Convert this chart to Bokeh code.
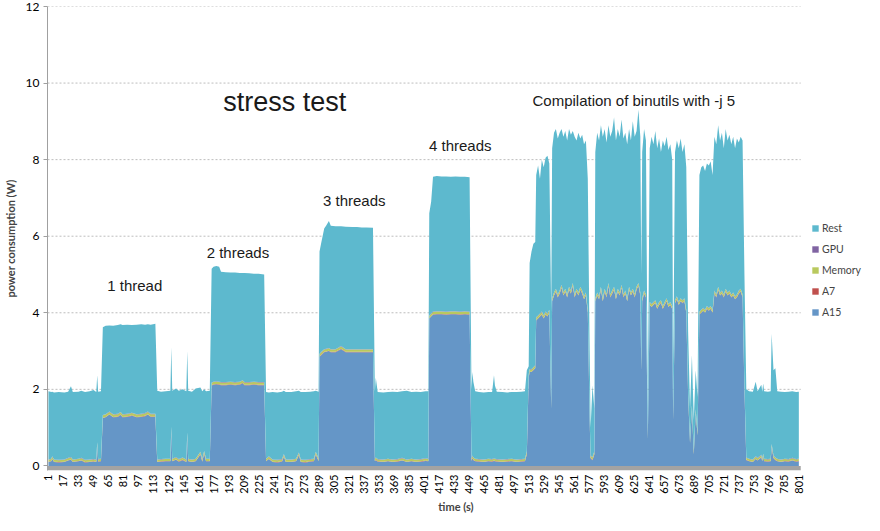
from math import pi
from bokeh.plotting import figure
from bokeh.models import ColumnDataSource, Range1d, FixedTicker, Legend, LegendItem, Label, BoxAnnotation
from bokeh.embed import file_html
from bokeh.resources import INLINE

# ---------------- data ----------------
time_s = [
    1, 4, 5, 7, 12, 18, 22, 25, 27, 33, 36, 40, 45, 49, 52, 53, 54, 57,
    59, 62, 66, 70, 75, 78, 80, 85, 90, 95, 100, 104, 107, 110, 115,
    117, 121, 126, 131, 132, 133, 137, 140, 144, 148, 149, 150, 154, 158, 163, 165, 167, 169, 173,
    175, 177, 180, 183, 185, 190, 195, 200, 205, 208, 210, 215, 220, 225, 231,
    233, 236, 240, 245, 250, 252, 254, 260, 265, 268, 270, 275, 280, 284, 286, 289,
    290, 292, 295, 297, 300, 302, 307, 313, 318, 325, 330, 335, 340, 347,
    349, 350, 352, 358, 363, 368, 373, 378, 383, 388, 393, 398, 403, 406,
    407, 409, 411, 415, 420, 425, 430, 435, 440, 445, 450,
    452, 453, 454, 456, 460, 465, 470, 474, 476, 477, 479, 485, 490, 495, 500, 505, 509,
    511, 513, 514, 516, 518, 520,
    521, 523, 525, 527, 529, 531, 533, 535,
    537, 538,
    540, 542, 544, 546, 548, 550, 552, 554, 556, 558, 560, 562, 564, 566, 568, 570, 572, 574, 576,
    578, 579, 581, 583,
    584, 586, 588, 590, 592, 594, 596, 598, 600, 602, 604, 606, 608, 610, 612, 614, 616, 618, 620, 622, 624, 626, 628, 630, 632,
    633, 634, 636, 638,
    640,
    642, 644, 646, 648, 650, 652, 654, 656, 658, 660, 662, 664, 666,
    667,
    669, 671, 673, 675, 677, 679, 681,
    683, 685, 687, 689, 691, 693,
    695, 697, 699, 701, 703, 705, 707, 709,
    711, 713, 715, 717, 719, 721, 723, 725, 727, 729, 731, 733, 735, 737, 739, 741, 743,
    745, 748, 752, 755, 757, 761, 762, 763, 764, 768, 771, 772, 774, 776, 778, 782, 786, 790, 794, 798, 801,
]

a15_w = [
    0.10, 0.12, 0.18, 0.10, 0.09, 0.10, 0.14, 0.16, 0.10, 0.12, 0.14, 0.09, 0.10, 0.11, 0.10, 0.55, 0.11, 0.12,
    1.25, 1.27, 1.34, 1.27, 1.28, 1.33, 1.27, 1.28, 1.31, 1.27, 1.28, 1.30, 1.34, 1.28, 1.28,
    0.10, 0.11, 0.12, 0.12, 0.95, 0.12, 0.16, 0.11, 0.15, 0.10, 0.80, 0.12, 0.10, 0.12, 0.30, 0.11, 0.32, 0.12, 0.12,
    2.10, 2.12, 2.13, 2.12, 2.11, 2.11, 2.12, 2.11, 2.12, 2.16, 2.11, 2.11, 2.12, 2.11, 2.11,
    0.12, 0.18, 0.10, 0.09, 0.11, 0.24, 0.10, 0.10, 0.12, 0.28, 0.10, 0.09, 0.11, 0.12, 0.30, 0.12,
    2.85, 2.90, 2.97, 2.98, 3.00, 2.97, 2.97, 3.05, 2.97, 2.97, 2.97, 2.97, 2.97, 2.97,
    0.12, 0.15, 0.11, 0.10, 0.12, 0.10, 0.11, 0.14, 0.10, 0.12, 0.10, 0.11, 0.13, 0.12,
    3.85, 3.90, 3.95, 3.96, 3.96, 3.95, 3.96, 3.96, 3.95, 3.96, 3.95,
    0.13, 0.20, 0.15, 0.12, 0.11, 0.10, 0.12, 0.11, 0.13, 0.12, 0.11, 0.10, 0.11, 0.12, 0.10, 0.11, 0.12,
    0.30, 2.30, 2.45, 2.45, 2.50, 2.55,
    3.80, 3.85, 3.90, 3.95, 3.85, 3.95, 3.90, 4.00,
    1.50, 4.30,
    4.45, 4.55, 4.40, 4.50, 4.65, 4.45, 4.55, 4.40, 4.60, 4.50, 4.70, 4.40, 4.55, 4.45, 4.60, 4.50, 4.35, 4.45, 4.00,
    1.20, 0.20, 0.15, 0.30,
    4.30, 4.45, 4.35, 4.60, 4.30, 4.55, 4.40, 4.70, 4.40, 4.50, 4.60, 4.35, 4.55, 4.45, 4.65, 4.40, 4.50, 4.30, 4.60, 4.45, 4.55, 4.40, 4.60, 4.70, 4.45,
    2.50, 4.30, 4.50, 4.40,
    0.70,
    4.20, 4.15, 4.20, 4.25, 4.10, 4.20, 4.25, 4.10, 4.20, 4.30, 4.15, 4.20, 4.10,
    1.20,
    4.25, 4.35, 4.20, 4.30, 4.25, 4.30, 4.00,
    1.80, 0.60, 1.50, 0.30, 1.40, 0.80,
    3.95, 4.00, 4.05, 4.00, 4.10, 4.05, 4.10, 4.00,
    4.50, 4.40, 4.60, 4.45, 4.50, 4.40, 4.55, 4.45, 4.50, 4.40, 4.45, 4.35, 4.40, 4.50, 4.55, 4.40, 2.00,
    0.15, 0.12, 0.10, 0.18, 0.14, 0.22, 0.12, 0.25, 0.12, 0.11, 0.12, 0.50, 0.20, 0.15, 0.12, 0.10, 0.12, 0.11, 0.14, 0.11, 0.12,
]

a7_w = [
    0.01, 0.01, 0.01, 0.01, 0.01, 0.01, 0.01, 0.01, 0.01, 0.01, 0.01, 0.01, 0.01, 0.01, 0.01, 0.01, 0.01, 0.01,
    0.01, 0.01, 0.01, 0.01, 0.01, 0.01, 0.01, 0.01, 0.01, 0.01, 0.01, 0.01, 0.01, 0.01, 0.01,
    0.01, 0.01, 0.01, 0.01, 0.01, 0.01, 0.01, 0.01, 0.01, 0.01, 0.01, 0.01, 0.01, 0.01, 0.01, 0.01, 0.01, 0.01, 0.01,
    0.01, 0.01, 0.01, 0.01, 0.01, 0.01, 0.01, 0.01, 0.01, 0.01, 0.01, 0.01, 0.01, 0.01, 0.01,
    0.01, 0.01, 0.01, 0.01, 0.01, 0.01, 0.01, 0.01, 0.01, 0.01, 0.01, 0.01, 0.01, 0.01, 0.01, 0.01,
    0.01, 0.01, 0.01, 0.01, 0.01, 0.01, 0.01, 0.01, 0.01, 0.01, 0.01, 0.01, 0.01, 0.01,
    0.01, 0.01, 0.01, 0.01, 0.01, 0.01, 0.01, 0.01, 0.01, 0.01, 0.01, 0.01, 0.01, 0.01,
    0.01, 0.01, 0.01, 0.01, 0.01, 0.01, 0.01, 0.01, 0.01, 0.01, 0.01,
    0.01, 0.01, 0.01, 0.01, 0.01, 0.01, 0.01, 0.01, 0.01, 0.01, 0.01, 0.01, 0.01, 0.01, 0.01, 0.01, 0.01,
    0.01, 0.01, 0.01, 0.01, 0.01, 0.01,
    0.01, 0.01, 0.01, 0.01, 0.01, 0.01, 0.01, 0.01,
    0.01, 0.01,
    0.01, 0.01, 0.01, 0.01, 0.01, 0.01, 0.01, 0.01, 0.01, 0.01, 0.01, 0.01, 0.01, 0.01, 0.01, 0.01, 0.01, 0.01, 0.01,
    0.01, 0.01, 0.01, 0.01,
    0.01, 0.01, 0.01, 0.01, 0.01, 0.01, 0.01, 0.01, 0.01, 0.01, 0.01, 0.01, 0.01, 0.01, 0.01, 0.01, 0.01, 0.01, 0.01, 0.01, 0.01, 0.01, 0.01, 0.01, 0.01,
    0.01, 0.01, 0.01, 0.01,
    0.01,
    0.01, 0.01, 0.01, 0.01, 0.01, 0.01, 0.01, 0.01, 0.01, 0.01, 0.01, 0.01, 0.01,
    0.01,
    0.01, 0.01, 0.01, 0.01, 0.01, 0.01, 0.01,
    0.01, 0.01, 0.01, 0.01, 0.01, 0.01,
    0.01, 0.01, 0.01, 0.01, 0.01, 0.01, 0.01, 0.01,
    0.01, 0.01, 0.01, 0.01, 0.01, 0.01, 0.01, 0.01, 0.01, 0.01, 0.01, 0.01, 0.01, 0.01, 0.01, 0.01, 0.01,
    0.01, 0.01, 0.01, 0.01, 0.01, 0.01, 0.01, 0.01, 0.01, 0.01, 0.01, 0.01, 0.01, 0.01, 0.01, 0.01, 0.01, 0.01, 0.01, 0.01, 0.01,
]

memory_w = [
    0.05, 0.05, 0.05, 0.05, 0.05, 0.05, 0.05, 0.05, 0.05, 0.05, 0.05, 0.05, 0.05, 0.05, 0.05, 0.05, 0.05, 0.05,
    0.06, 0.06, 0.06, 0.06, 0.06, 0.06, 0.06, 0.06, 0.06, 0.06, 0.06, 0.06, 0.06, 0.06, 0.06,
    0.05, 0.05, 0.05, 0.05, 0.05, 0.05, 0.05, 0.05, 0.05, 0.05, 0.05, 0.05, 0.05, 0.05, 0.05, 0.05, 0.05, 0.05, 0.05,
    0.06, 0.06, 0.06, 0.06, 0.06, 0.06, 0.06, 0.06, 0.06, 0.06, 0.06, 0.06, 0.06, 0.06, 0.06,
    0.05, 0.05, 0.05, 0.05, 0.05, 0.05, 0.05, 0.05, 0.05, 0.05, 0.05, 0.05, 0.05, 0.05, 0.05, 0.05,
    0.06, 0.06, 0.06, 0.06, 0.06, 0.06, 0.06, 0.06, 0.06, 0.06, 0.06, 0.06, 0.06, 0.06,
    0.05, 0.05, 0.05, 0.05, 0.05, 0.05, 0.05, 0.05, 0.05, 0.05, 0.05, 0.05, 0.05, 0.05,
    0.06, 0.06, 0.06, 0.06, 0.06, 0.06, 0.06, 0.06, 0.06, 0.06, 0.06,
    0.05, 0.05, 0.05, 0.05, 0.05, 0.05, 0.05, 0.05, 0.05, 0.05, 0.05, 0.05, 0.05, 0.05, 0.05, 0.05, 0.05,
    0.06, 0.06, 0.06, 0.06, 0.06, 0.06,
    0.06, 0.06, 0.06, 0.06, 0.06, 0.06, 0.06, 0.06,
    0.06, 0.06,
    0.06, 0.06, 0.06, 0.06, 0.06, 0.06, 0.06, 0.06, 0.06, 0.06, 0.06, 0.06, 0.06, 0.06, 0.06, 0.06, 0.06, 0.06, 0.06,
    0.06, 0.06, 0.06, 0.06,
    0.06, 0.06, 0.06, 0.06, 0.06, 0.06, 0.06, 0.06, 0.06, 0.06, 0.06, 0.06, 0.06, 0.06, 0.06, 0.06, 0.06, 0.06, 0.06, 0.06, 0.06, 0.06, 0.06, 0.06, 0.06,
    0.06, 0.06, 0.06, 0.06,
    0.06,
    0.06, 0.06, 0.06, 0.06, 0.06, 0.06, 0.06, 0.06, 0.06, 0.06, 0.06, 0.06, 0.06,
    0.06,
    0.06, 0.06, 0.06, 0.06, 0.06, 0.06, 0.06,
    0.06, 0.06, 0.06, 0.06, 0.06, 0.06,
    0.06, 0.06, 0.06, 0.06, 0.06, 0.06, 0.06, 0.06,
    0.06, 0.06, 0.06, 0.06, 0.06, 0.06, 0.06, 0.06, 0.06, 0.06, 0.06, 0.06, 0.06, 0.06, 0.06, 0.06, 0.06,
    0.05, 0.05, 0.05, 0.05, 0.05, 0.05, 0.05, 0.05, 0.05, 0.05, 0.05, 0.05, 0.05, 0.05, 0.05, 0.05, 0.05, 0.05, 0.05, 0.05, 0.05,
]

gpu_w = [
    0.01, 0.01, 0.01, 0.01, 0.01, 0.01, 0.01, 0.01, 0.01, 0.01, 0.01, 0.01, 0.01, 0.01, 0.01, 0.01, 0.01, 0.01,
    0.01, 0.01, 0.01, 0.01, 0.01, 0.01, 0.01, 0.01, 0.01, 0.01, 0.01, 0.01, 0.01, 0.01, 0.01,
    0.01, 0.01, 0.01, 0.01, 0.01, 0.01, 0.01, 0.01, 0.01, 0.01, 0.01, 0.01, 0.01, 0.01, 0.01, 0.01, 0.01, 0.01, 0.01,
    0.01, 0.01, 0.01, 0.01, 0.01, 0.01, 0.01, 0.01, 0.01, 0.01, 0.01, 0.01, 0.01, 0.01, 0.01,
    0.01, 0.01, 0.01, 0.01, 0.01, 0.01, 0.01, 0.01, 0.01, 0.01, 0.01, 0.01, 0.01, 0.01, 0.01, 0.01,
    0.01, 0.01, 0.01, 0.01, 0.01, 0.01, 0.01, 0.01, 0.01, 0.01, 0.01, 0.01, 0.01, 0.01,
    0.01, 0.01, 0.01, 0.01, 0.01, 0.01, 0.01, 0.01, 0.01, 0.01, 0.01, 0.01, 0.01, 0.01,
    0.01, 0.01, 0.01, 0.01, 0.01, 0.01, 0.01, 0.01, 0.01, 0.01, 0.01,
    0.01, 0.01, 0.01, 0.01, 0.01, 0.01, 0.01, 0.01, 0.01, 0.01, 0.01, 0.01, 0.01, 0.01, 0.01, 0.01, 0.01,
    0.01, 0.01, 0.01, 0.01, 0.01, 0.01,
    0.01, 0.01, 0.01, 0.01, 0.01, 0.01, 0.01, 0.01,
    0.01, 0.01,
    0.01, 0.01, 0.01, 0.01, 0.01, 0.01, 0.01, 0.01, 0.01, 0.01, 0.01, 0.01, 0.01, 0.01, 0.01, 0.01, 0.01, 0.01, 0.01,
    0.01, 0.01, 0.01, 0.01,
    0.01, 0.01, 0.01, 0.01, 0.01, 0.01, 0.01, 0.01, 0.01, 0.01, 0.01, 0.01, 0.01, 0.01, 0.01, 0.01, 0.01, 0.01, 0.01, 0.01, 0.01, 0.01, 0.01, 0.01, 0.01,
    0.01, 0.01, 0.01, 0.01,
    0.01,
    0.01, 0.01, 0.01, 0.01, 0.01, 0.01, 0.01, 0.01, 0.01, 0.01, 0.01, 0.01, 0.01,
    0.01,
    0.01, 0.01, 0.01, 0.01, 0.01, 0.01, 0.01,
    0.01, 0.01, 0.01, 0.01, 0.01, 0.01,
    0.01, 0.01, 0.01, 0.01, 0.01, 0.01, 0.01, 0.01,
    0.01, 0.01, 0.01, 0.01, 0.01, 0.01, 0.01, 0.01, 0.01, 0.01, 0.01, 0.01, 0.01, 0.01, 0.01, 0.01, 0.01,
    0.01, 0.01, 0.01, 0.01, 0.01, 0.01, 0.01, 0.01, 0.01, 0.01, 0.01, 0.01, 0.01, 0.01, 0.01, 0.01, 0.01, 0.01, 0.01, 0.01, 0.01,
]

rest_w = [
    1.78, 1.74, 1.69, 1.75, 1.77, 1.75, 1.73, 1.85, 1.76, 1.75, 1.75, 1.77, 1.78, 1.80, 1.76, 1.75, 1.76, 1.76,
    2.29, 2.31, 2.25, 2.31, 2.32, 2.29, 2.33, 2.33, 2.29, 2.34, 2.34, 2.31, 2.28, 2.33, 2.35,
    1.79, 1.76, 1.76, 1.77, 2.08, 1.77, 1.79, 1.78, 1.78, 1.78, 2.13, 1.77, 1.77, 1.83, 1.68, 1.77, 1.61, 1.76, 1.77,
    2.97, 3.00, 3.01, 3.00, 2.88, 2.87, 2.85, 2.86, 2.84, 2.80, 2.85, 2.84, 2.82, 2.83, 2.81,
    1.74, 1.67, 1.76, 1.76, 1.76, 1.65, 1.76, 1.76, 1.76, 1.61, 1.76, 1.77, 1.76, 1.76, 1.59, 1.75,
    2.67, 2.87, 3.15, 3.21, 3.32, 3.22, 3.21, 3.13, 3.20, 3.19, 3.19, 3.18, 3.18, 3.17,
    1.76, 2.08, 1.75, 1.75, 1.74, 1.77, 1.75, 1.74, 1.79, 1.74, 1.77, 1.75, 1.75, 1.76,
    2.67, 2.92, 3.52, 3.53, 3.52, 3.53, 3.51, 3.52, 3.52, 3.51, 3.51,
    1.80, 2.18, 1.98, 1.76, 1.75, 1.75, 1.74, 1.75, 2.17, 1.91, 1.76, 1.76, 1.74, 1.74, 1.76, 1.76, 1.76,
    2.12, 0.22, 2.77, 3.07, 3.22, 3.22,
    3.72, 3.92, 3.52, 3.97, 3.87, 4.02, 4.12, 3.82,
    2.42, 3.92,
    4.17, 4.17, 4.07, 4.12, 4.07, 4.07, 4.12, 4.02, 4.12, 4.07, 3.97, 4.12, 3.87, 4.17, 3.87, 4.07, 3.97, 3.97, 3.42,
    1.72, 0.72, 1.87, 1.12,
    3.82, 4.17, 4.07, 4.22, 4.22, 4.17, 3.97, 4.12, 4.12, 4.17, 4.42, 4.07, 4.17, 4.07, 4.32, 4.07, 4.12, 4.02, 4.12, 3.97, 4.37, 4.12, 4.07, 4.52, 4.07,
    2.42, 3.82, 4.22, 4.02,
    0.72,
    4.02, 4.37, 4.12, 4.42, 4.12, 4.27, 3.87, 4.32, 4.07, 4.22, 4.02, 4.12, 3.82,
    1.22,
    3.87, 4.07, 4.02, 4.17, 3.87, 4.02, 3.72,
    1.62, 0.82, 1.32, 0.82, 1.02, 0.92,
    3.57, 3.72, 3.72, 3.62, 3.72, 3.72, 3.77, 3.52,
    4.02, 3.92, 4.22, 3.97, 4.12, 3.82, 4.17, 3.97, 4.07, 3.92, 4.07, 3.87, 4.07, 3.87, 3.97, 4.02, 2.92,
    1.78, 1.76, 1.77, 1.95, 1.74, 1.83, 1.75, 1.83, 1.76, 1.76, 1.76, 2.88, 2.23, 2.33, 1.76, 1.77, 1.74, 1.76, 1.74, 1.75, 1.75,
]

series_names = ["A15", "A7", "Memory", "GPU", "Rest"]
legend_order = ["Rest", "GPU", "Memory", "A7", "A15"]
x_tick_labels = [1, 17, 33, 49, 65, 81, 97, 113, 129, 145, 161, 177, 193, 209, 225, 241,
                 257, 273, 289, 305, 321, 337, 353, 369, 385, 401, 417, 433, 449, 465, 481,
                 497, 513, 529, 545, 561, 577, 593, 609, 625, 641, 657, 673, 689, 705, 721,
                 737, 753, 769, 785, 801]
y_ticks = [0, 2, 4, 6, 8, 10, 12]

n = len(time_s)
for arr in (a15_w, a7_w, memory_w, gpu_w, rest_w):
    assert len(arr) == n, (len(arr), n)

# ---------------- styling ----------------
series_colors = ["#6596c7", "#c0504d", "#b9c95e", "#8064a2", "#5db9ce"]
tick_font = "Lato"
annot_font = "Liberation Sans"
X_END = 803          # right end of the plotted time axis
X_VIEW = 871         # frame extends further right to host the legend

source = ColumnDataSource(data={
    "t": time_s, "A15": a15_w, "A7": a7_w, "Memory": memory_w, "GPU": gpu_w, "Rest": rest_w,
})

p = figure(width=864, height=515, output_backend="svg", toolbar_location=None,
           x_range=Range1d(0, X_VIEW), y_range=Range1d(-0.12, 12),
           min_border_left=44, min_border_top=6, min_border_right=0, min_border_bottom=0)
p.outline_line_color = None
p.background_fill_color = "white"

# dashed horizontal gridlines (under the areas), ending at the time axis end
for g in y_ticks[1:]:
    p.segment(x0=0, y0=g, x1=X_END, y1=g, line_color="#bdbdbd", line_width=1, line_dash="2 2")

renderers = p.varea_stack(stackers=series_names, x="t", color=series_colors, source=source)
by_name = dict(zip(series_names, renderers))

# floor band below zero
p.add_layout(BoxAnnotation(left=0, right=X_END, bottom=-0.12, top=0, fill_color="#a3a3a3",
                           fill_alpha=1.0, line_color=None, level="overlay"))

p.xgrid.visible = False
p.ygrid.visible = False

# y axis
p.yaxis.ticker = FixedTicker(ticks=y_ticks)
p.yaxis.axis_line_color = "#a0a0a0"
p.yaxis.major_tick_line_color = "#a0a0a0"
p.yaxis.major_tick_out = 4
p.yaxis.major_tick_in = 0
p.yaxis.minor_tick_line_color = None
p.yaxis.major_label_text_font = tick_font
p.yaxis.major_label_text_font_size = "12px"
p.yaxis.major_label_text_color = "#000000"
p.yaxis.major_label_standoff = 4
p.yaxis.axis_label = "power consumption (W)"
p.yaxis.axis_label_text_font = tick_font
p.yaxis.axis_label_text_font_style = "bold"
p.yaxis.axis_label_text_font_size = "11px"
p.yaxis.axis_label_standoff = 6

# x axis
p.xaxis.ticker = FixedTicker(ticks=x_tick_labels)
p.xaxis.major_label_orientation = pi / 2
p.xaxis.axis_line_color = None
p.xaxis.major_tick_line_color = None
p.xaxis.minor_tick_line_color = None
p.xaxis.major_tick_out = 0
p.xaxis.major_label_standoff = 4
p.xaxis.major_label_text_font = tick_font
p.xaxis.major_label_text_font_size = "11px"
p.xaxis.major_label_text_color = "#000000"
p.xaxis.axis_label = "time (s)"
p.xaxis.axis_label_text_font = tick_font
p.xaxis.axis_label_text_font_style = "bold"
p.xaxis.axis_label_text_font_size = "11px"
p.xaxis.axis_label_standoff = 3

# legend, right of the plotted area
items = [LegendItem(label=name, renderers=[by_name[name]]) for name in legend_order]
legend = Legend(items=items, location=(764, 152), orientation="vertical",
                label_text_font=tick_font, label_text_font_size="10.5px",
                glyph_width=8, glyph_height=8, label_standoff=3, spacing=9,
                padding=0, margin=0, border_line_color=None, background_fill_alpha=0)
p.add_layout(legend, "center")

# annotations
annotations = [
    ("stress test", 253, 9.5, "27px"),
    ("Compilation of binutils with -j 5", 625, 9.55, "15px"),
    ("1 thread", 93, 4.72, "15px"),
    ("2 threads", 203, 5.58, "15px"),
    ("3 threads", 327, 6.92, "15px"),
    ("4 threads", 440, 8.38, "15px"),
]
for text, x, y, size in annotations:
    p.add_layout(Label(x=x, y=y, text=text, text_align="center", text_baseline="middle",
                       text_font=annot_font, text_font_size=size, text_color="#1a1a1a"))

open("out.html", "w").write(file_html(p, INLINE))
